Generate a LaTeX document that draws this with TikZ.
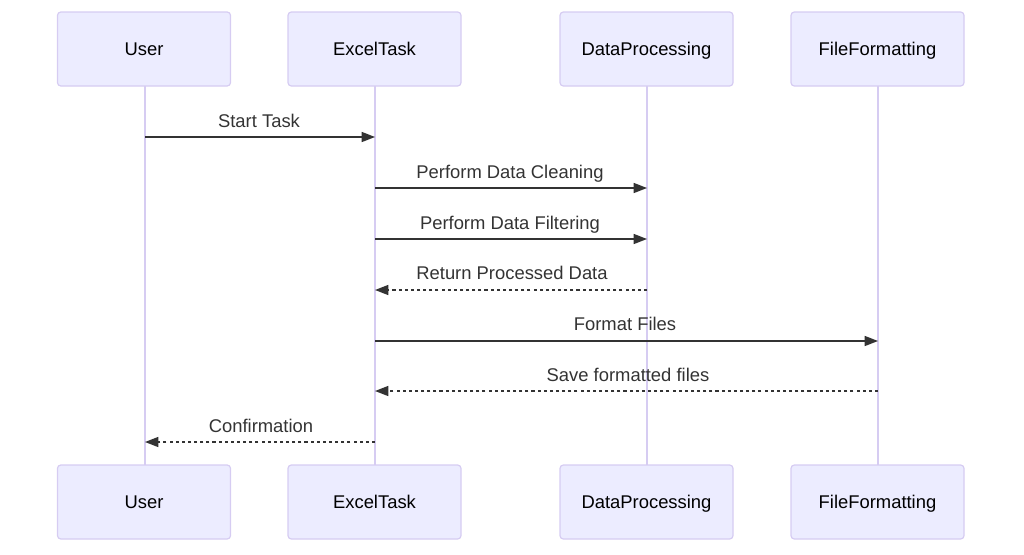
\documentclass[tikz,border=0pt]{standalone}
\usepackage{fontspec}
\setmainfont{Liberation Sans}
\usetikzlibrary{arrows.meta}
\definecolor{actfill}{HTML}{ECECFF}
\definecolor{actline}{HTML}{D6CCF2}
\definecolor{msg}{HTML}{333333}
\tikzset{
  actor/.style={draw=actline, fill=actfill, line width=0.9pt, rounded corners=2.5pt,
    minimum width=129.75pt, minimum height=55.5pt, inner sep=0pt, text height=12pt, text depth=2pt,
    font=\fontsize{13.8}{16}\selectfont, text=black},
  life/.style={draw=actline, line width=1.5pt},
  call/.style={draw=msg, line width=1.1pt, -{Triangle[length=10pt,width=7.5pt]}},
  reply/.style={call, dash pattern=on 2.3pt off 2.3pt},
  lbl/.style={font=\fontsize{13.8}{16}\selectfont, text=msg, inner sep=0pt, text height=12pt, text depth=2pt}
}
\begin{document}
\begin{tikzpicture}[x=0.75pt,y=-0.75pt]
\useasboundingbox (0,0) rectangle (1024,554);
% lifelines first
\coordinate (uT) at (145,86); \coordinate (uB) at (145,465);
\coordinate (eT) at (375,86); \coordinate (eB) at (375,465);
\coordinate (dT) at (647,86); \coordinate (dB) at (647,465);
\coordinate (fT) at (878,86); \coordinate (fB) at (878,465);
\draw[life] (uT) -- (uB);
\draw[life] (eT) -- (eB);
\draw[life] (dT) -- (dB);
\draw[life] (fT) -- (fB);
% actors
\node[actor] (u1) at (144,49) {User};
\node[actor] (e1) at (374.5,49) {ExcelTask};
\node[actor] (d1) at (646.5,49) {DataProcessing};
\node[actor] (f1) at (877.5,49) {FileFormatting};
\node[actor] (u2) at (144,502) {User};
\node[actor] (e2) at (374.5,502) {ExcelTask};
\node[actor] (d2) at (646.5,502) {DataProcessing};
\node[actor] (f2) at (877.5,502) {FileFormatting};
% message anchor points
\coordinate (u137) at (145,137); \coordinate (e137) at (375,137);
\coordinate (e188) at (375,188); \coordinate (d188) at (647,188);
\coordinate (e239) at (375,239); \coordinate (d239) at (647,239);
\coordinate (d290) at (647,290); \coordinate (e290) at (375,290);
\coordinate (e341) at (375,341); \coordinate (f341) at (878,341);
\coordinate (f391) at (878,391); \coordinate (e391) at (375,391);
\coordinate (e442) at (375,442); \coordinate (u442) at (145,442);
\draw[call] (u137) -- (e137);
\draw[call] (e188) -- (d188);
\draw[call] (e239) -- (d239);
\draw[reply] (d290) -- (e290);
\draw[call] (e341) -- (f341);
\draw[reply] (f391) -- (e391);
\draw[reply] (e442) -- (u442);
\node[lbl] (m1) at (259,121) {Start Task};
\node[lbl] (m2) at (510,172) {Perform Data Cleaning};
\node[lbl] (m3) at (510,223) {Perform Data Filtering};
\node[lbl] (m4) at (512,273) {Return Processed Data};
\node[lbl] (m5) at (625,324) {Format Files};
\node[lbl] (m6) at (628,375) {Save formatted files};
\node[lbl] (m7) at (261,426) {Confirmation};
\end{tikzpicture}
\end{document}
